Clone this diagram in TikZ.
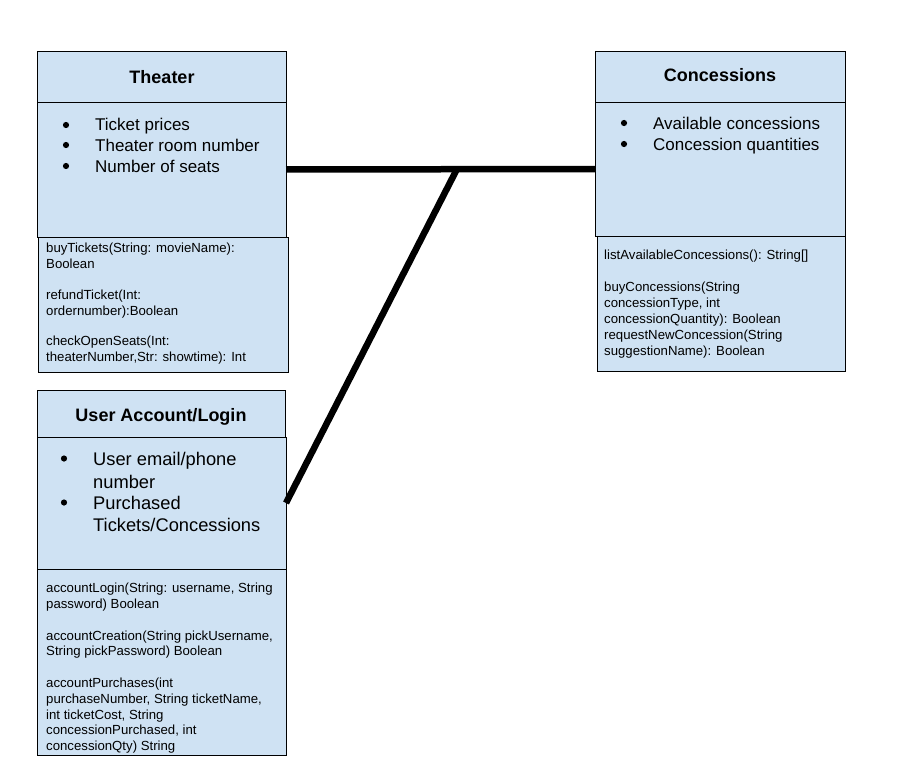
\documentclass[tikz,border=0pt]{standalone}
\usepackage{fontspec}
\setmainfont{Liberation Sans}
\definecolor{boxfill}{HTML}{CFE2F3}
\begin{document}
\begin{tikzpicture}[x=1pt,y=-1pt,
  box/.style={draw=black,fill=boxfill,line width=0.9pt,inner sep=0,outer sep=0,anchor=north west},
  ttl/.style={inner sep=0,anchor=base,font=\fontsize{18}{21}\selectfont\bfseries},
  btxt/.style={inner sep=0,anchor=base west,font=\fontsize{17}{20}\selectfont},
  bul/.style={circle,fill=black,inner sep=0,minimum size=6.2pt},
  utxt/.style={inner sep=0,anchor=base west,font=\fontsize{18.3}{21}\selectfont},
  mtxt/.style={inner sep=0,anchor=base west,font=\fontsize{13.2}{15}\selectfont},
  conn/.style={line width=6.5pt,black}]
\useasboundingbox (0,0) rectangle (904,773);
% Theater
\node[box,minimum width=249pt,minimum height=51pt] (th) at (37,51) {};
\node[box,minimum width=249pt,minimum height=135pt] (tattr) at (37,102) {};
\node[box,minimum width=250pt,minimum height=135pt] (tmeth) at (38,237) {};
% Concessions
\node[box,minimum width=250pt,minimum height=51pt] (ch) at (595,51) {};
\node[box,minimum width=250pt,minimum height=134pt] (cattr) at (595,102) {};
\node[box,minimum width=248pt,minimum height=135pt] (cmeth) at (597,236) {};
% User
\node[box,minimum width=248pt,minimum height=47pt] (uh) at (37,390) {};
\node[box,minimum width=249pt,minimum height=132pt] (uattr) at (37,437) {};
\node[box,minimum width=249pt,minimum height=186pt] (umeth) at (37,569) {};
% titles
\node[ttl] (tht) at (162,83.5) {Theater};
\node[ttl] (cht) at (720,81.5) {Concessions};
\node[ttl] (uht) at (161,421.5) {User Account/Login};
% bullets
\foreach \yy/\tx [count=\i] in {131/{Ticket prices},151/{Theater room number},172/{Number of seats}}{
  \node[bul] (tb\i) at (66,\yy-6) {};
  \node[btxt] (ta\i) at (95,\yy) {\tx};
}
\foreach \yy/\tx [count=\i] in {129/{Available concessions},150/{Concession quantities}}{
  \node[bul] (cb\i) at (624,\yy-6) {};
  \node[btxt] (ca\i) at (653,\yy) {\tx};
}
\node[bul] (ub1) at (64,465-6.5) {};
\node[utxt] (ua1) at (93,465) {User email/phone};
\node[utxt] (ua2) at (93,488) {number};
\node[bul] (ub2) at (64,509-6.5) {};
\node[utxt] (ua3) at (93,509) {Purchased};
\node[utxt] (ua4) at (93,531) {Tickets/Concessions};
% methods
\foreach \yy/\tx [count=\i] in {248/{buyTickets(String: movieName):},263.5/{Boolean},295/{refundTicket(Int:},310.5/{ordernumber):Boolean},341/{checkOpenSeats(Int:},356.5/{theaterNumber,Str: showtime): Int}}{
  \node[mtxt] (tm\i) at (46,\yy+4.5) {\tx};
}
\foreach \yy/\tx [count=\i] in {255/{listAvailableConcessions(): String[]},287/{buyConcessions(String},303/{concessionType, int},318.5/{concessionQuantity): Boolean},334.5/{requestNewConcession(String},350.5/{suggestionName): Boolean}}{
  \node[mtxt] (cm\i) at (604,\yy+4.5) {\tx};
}
\foreach \yy/\tx [count=\i] in {588/{accountLogin(String: username, String},603.5/{password) Boolean},635.5/{accountCreation(String pickUsername,},651/{String pickPassword) Boolean},683/{accountPurchases(int},699/{purchaseNumber, String ticketName,},714.5/{int ticketCost, String},730/{concessionPurchased, int},745.5/{concessionQty) String}}{
  \node[mtxt] (um\i) at (46,\yy+4.5) {\tx};
}
% connectors
\draw[conn] (tattr.east) -- (cattr.west) coordinate[pos=0.553] (j);
\draw[conn] (j) -- (uattr.east);
\end{tikzpicture}
\end{document}
